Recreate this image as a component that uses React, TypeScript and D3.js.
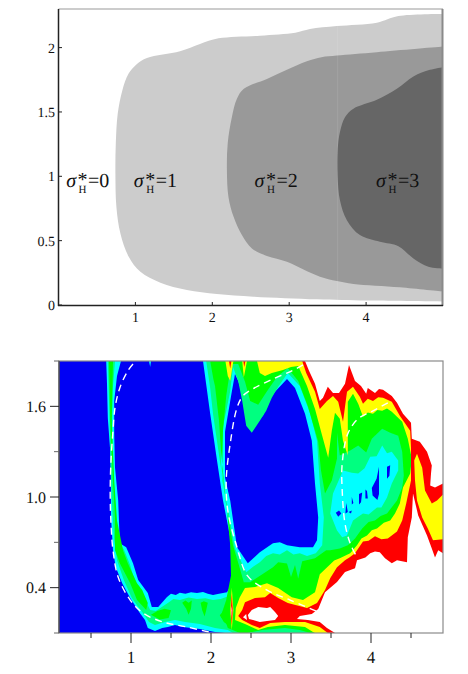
// App.tsx
import React from "react";
import * as d3 from "d3";

type Pt = [number, number];

// ---- top panel: stress regions ----
const topXTicks = [1, 2, 3, 4];
const topYTicks = [0, 0.5, 1, 1.5, 2];
const sigmaValues = [0, 1, 2, 3];
const sigmaLabelX = [0.1, 0.98, 2.55, 4.13];
const sigmaLabelY = 0.92;

const region1: Pt[] = [[5,2.261],[4.42,2.245],[4.14,2.194],[3.62,2.168],[3.27,2.145],[3.08,2.116],[2.62,2.093],[2.08,2.072],[1.84,2.028],[1.58,1.972],[1.15,1.92],[1.02,1.873],[0.91,1.796],[0.83,1.667],[0.77,1.486],[0.745,1.253],[0.74,1.021],[0.753,0.762],[0.805,0.556],[0.913,0.375],[1.065,0.258],[1.325,0.173],[1.67,0.116],[2.06,0.085],[2.537,0.065],[3.36,0.044],[4.01,0.034],[5,0.026]];
const region2: Pt[] = [[5,2.008],[4.14,1.964],[3.62,1.938],[3.42,1.925],[3.23,1.894],[2.97,1.827],[2.71,1.757],[2.41,1.68],[2.32,1.602],[2.255,1.46],[2.2,1.253],[2.19,1.047],[2.21,0.84],[2.277,0.685],[2.385,0.543],[2.515,0.439],[2.71,0.38],[2.97,0.336],[3.186,0.276],[3.4,0.22],[3.62,0.186],[3.835,0.163],[4.44,0.137],[5,0.103]];
const region3: Pt[] = [[5,1.848],[4.83,1.827],[4.615,1.775],[4.4,1.68],[4.14,1.594],[3.835,1.525],[3.727,1.46],[3.66,1.344],[3.63,1.202],[3.63,0.995],[3.66,0.814],[3.75,0.659],[3.92,0.543],[4.18,0.491],[4.42,0.457],[4.615,0.362],[4.81,0.297],[5,0.282]];

// ---- bottom panel: filled contour bands, outside edge of each level ----
const majorX = [1, 2, 3, 4];
const minorX = [0.5, 1.5, 2.5, 3.5, 4.5];
const majorY = [0.4, 1.0, 1.6];
const minorY = [0.1, 0.7, 1.3, 1.9];

const cyanOuter: Pt[] = [[0.69,1.9],[0.7,1.75],[0.71,1.524],[0.74,1.307],[0.75,1.089],[0.75,0.865],[0.775,0.647],[0.81,0.535],[0.89,0.43],[0.99,0.331],[1.11,0.232],[1.175,0.186],[1.21,0.133],[1.3,0.113],[1.39,0.133],[1.46,0.14],[1.55,0.153],[1.65,0.14],[1.86,0.127],[2.05,0.107],[2.175,0.1],[4.9,0.1],[4.9,1.9],[1.9,1.9],[1.99,1.551],[2.075,1.241],[2.15,0.977],[2.24,0.733],[2.26,0.535],[2.25,0.417],[2.2,0.37],[2.1,0.36],[2.025,0.351],[1.96,0.36],[1.9,0.372],[1.825,0.364],[1.75,0.37],[1.68,0.36],[1.61,0.366],[1.56,0.352],[1.5,0.36],[1.45,0.338],[1.34,0.272],[1.26,0.272],[1.21,0.364],[1.09,0.45],[1.025,0.562],[0.94,0.667],[0.86,0.694],[0.84,0.977],[0.8,1.195],[0.79,1.419],[0.79,1.636],[0.825,1.8],[0.875,1.9]];
const cyanHole: Pt[] = [[2.3,1.814],[2.26,1.696],[2.175,1.432],[2.175,1.129],[2.24,0.977],[2.325,0.667],[2.46,0.562],[2.61,0.634],[2.775,0.694],[2.86,0.7],[2.95,0.68],[3.11,0.667],[3.275,0.667],[3.325,0.713],[3.34,0.865],[3.3,1.089],[3.26,1.373],[3.175,1.551],[3.05,1.722],[2.95,1.781],[2.8,1.696],[2.71,1.63],[2.65,1.537],[2.575,1.505],[2.51,1.472],[2.46,1.531],[2.4,1.669],[2.34,1.768]];
const cyanSpeck: Pt[] = [[1.225,1.9],[1.25,1.9],[1.24,1.86]];

const springOuter: Pt[] = [[0.71,1.9],[0.725,1.636],[0.74,1.307],[0.76,0.977],[0.79,0.713],[0.825,0.581],[0.91,0.45],[1.01,0.331],[1.14,0.239],[1.225,0.173],[1.3,0.153],[1.425,0.173],[1.55,0.186],[1.675,0.173],[1.86,0.16],[2.05,0.133],[2.21,0.12],[2.275,0.1],[4.9,0.1],[4.9,1.9],[1.94,1.9],[1.99,1.72],[2.025,1.551],[2.11,1.241],[2.19,0.977],[2.25,0.733],[2.25,0.42],[2.225,0.345],[2.12,0.325],[2.025,0.318],[1.93,0.33],[1.825,0.325],[1.72,0.335],[1.61,0.318],[1.53,0.325],[1.46,0.298],[1.31,0.245],[1.24,0.252],[1.16,0.337],[1.05,0.436],[0.99,0.548],[0.91,0.654],[0.825,0.713],[0.8,0.977],[0.76,1.307],[0.77,1.7],[0.8,1.9]];
const springHole: Pt[] = [[2.275,1.86],[2.24,1.7],[2.14,1.439],[2.125,1.241],[2.14,1.109],[2.2,0.957],[2.3,0.66],[2.44,0.502],[2.53,0.54],[2.61,0.568],[2.69,0.61],[2.775,0.628],[2.86,0.62],[2.95,0.647],[3.03,0.62],[3.11,0.628],[3.2,0.61],[3.31,0.628],[3.39,0.68],[3.41,0.865],[3.36,1.089],[3.325,1.373],[3.24,1.551],[3.11,1.735],[2.96,1.821],[2.84,1.729],[2.76,1.656],[2.69,1.57],[2.61,1.505],[2.51,1.425],[2.44,1.472],[2.39,1.636],[2.34,1.768]];
const springLobeHole: Pt[] = [[3.65,1.175],[3.525,1.023],[3.49,0.891],[3.575,0.779],[3.64,0.733],[3.7,0.746],[3.775,0.845],[3.84,0.87],[3.9,0.891],[3.97,0.885],[4.075,0.931],[4.13,0.93],[4.2,0.997],[4.26,1.089],[4.34,1.175],[4.34,1.241],[4.3,1.27],[4.26,1.3],[4.2,1.29],[4.14,1.34],[4.07,1.27],[3.99,1.267],[3.92,1.19],[3.84,1.155],[3.76,1.16]];

const greenOuter: Pt[] = [[1.99,1.9],[2.03,1.78],[2.05,1.735],[2.1,1.505],[2.125,1.307],[2.16,1.109],[2.2,0.911],[2.24,0.68],[2.25,0.48],[2.19,0.318],[2.14,0.239],[2.21,0.133],[2.36,0.1],[2.46,0.1],[2.64,0.12],[2.925,0.133],[3.11,0.12],[3.24,0.1],[4.9,0.1],[4.9,1.9]];
const greenHole: Pt[] = [[2.25,1.88],[2.34,1.88],[2.425,1.762],[2.49,1.636],[2.59,1.61],[2.7,1.7],[2.825,1.795],[2.96,1.854],[3.09,1.768],[3.21,1.603],[3.34,1.366],[3.375,1.175],[3.425,1.023],[3.51,1.109],[3.575,1.254],[3.575,1.425],[3.61,1.274],[3.74,1.307],[3.84,1.34],[3.94,1.294],[4.01,1.386],[4.14,1.452],[4.24,1.425],[4.34,1.406],[4.39,1.3],[4.41,1.142],[4.39,1.063],[4.325,0.977],[4.2,0.891],[4.12,0.875],[4.05,0.845],[3.97,0.835],[3.89,0.792],[3.8,0.726],[3.71,0.68],[3.61,0.66],[3.49,0.647],[3.44,0.647],[3.3,0.595],[3.14,0.575],[3.09,0.46],[3.05,0.55],[3.0,0.47],[2.95,0.56],[2.84,0.568],[2.775,0.535],[2.49,0.436],[2.41,0.436],[2.36,0.529],[2.275,0.68],[2.19,0.944],[2.14,1.175],[2.15,1.439],[2.19,1.669]];
const greenLeftArm: Pt[] = [[0.725,1.9],[0.74,1.505],[0.775,1.109],[0.8,0.865],[0.8,0.647],[0.86,0.562],[0.99,0.43],[1.075,0.318],[1.19,0.252],[1.21,0.298],[1.14,0.384],[1.075,0.43],[0.96,0.562],[0.9,0.647],[0.825,0.845],[0.79,1.109],[0.76,1.505],[0.775,1.9]];
const greenBlobs: Pt[][] = [
  [[1.25,0.22],[1.33,0.245],[1.42,0.26],[1.5,0.25],[1.47,0.2],[1.36,0.19]],
  [[1.64,0.3],[1.68,0.315],[1.72,0.3],[1.76,0.315],[1.75,0.26],[1.72,0.22],[1.69,0.26]],
  [[1.87,0.3],[1.91,0.31],[1.96,0.3],[1.94,0.25],[1.92,0.21],[1.89,0.25]],
  [[2.11,0.218],[2.21,0.284],[2.26,0.318],[2.26,0.133],[2.16,0.173]],
];

const yellowOuter: Pt[] = [[2.575,1.9],[2.61,1.82],[2.675,1.8],[2.76,1.82],[2.9,1.84],[3.0,1.86],[3.09,1.867],[3.2,1.735],[3.3,1.583],[3.39,1.406],[3.465,1.26],[3.51,1.439],[3.55,1.557],[3.61,1.518],[3.65,1.373],[3.71,1.274],[3.71,1.63],[3.775,1.683],[3.84,1.617],[3.9,1.531],[3.96,1.56],[4.025,1.551],[4.08,1.575],[4.14,1.57],[4.2,1.585],[4.26,1.564],[4.39,1.498],[4.46,1.386],[4.51,1.254],[4.49,1.155],[4.4,1.063],[4.36,0.957],[4.3,0.89],[4.24,0.845],[4.16,0.83],[4.075,0.792],[4.01,0.78],[3.95,0.746],[3.88,0.725],[3.825,0.68],[3.74,0.628],[3.61,0.595],[3.54,0.58],[3.465,0.542],[3.36,0.489],[3.3,0.37],[3.15,0.318],[3.01,0.337],[2.84,0.397],[2.7,0.43],[2.55,0.404],[2.425,0.397],[2.36,0.337],[2.31,0.265],[2.3,0.186],[2.425,0.16],[2.59,0.12],[2.71,0.14],[2.925,0.153],[3.175,0.14],[3.275,0.107],[3.3,0.1],[4.9,0.1],[4.9,1.9]];
const yellowTopPatches: Pt[][] = [
  [[2.18,1.9],[2.21,1.8],[2.24,1.77],[2.28,1.9]],
  [[2.39,1.9],[2.41,1.79],[2.45,1.9]],
];
const redTopSpecks: Pt[][] = [
  [[2.225,1.9],[2.24,1.85],[2.255,1.9]],
  [[2.405,1.9],[2.415,1.86],[2.43,1.9]],
];

const redOuter: Pt[] = [[3.14,1.9],[3.19,1.82],[3.3,1.696],[3.36,1.583],[3.45,1.636],[3.525,1.669],[3.59,1.63],[3.65,1.498],[3.7,1.696],[3.775,1.729],[3.86,1.663],[3.9,1.617],[3.96,1.65],[4.025,1.636],[4.09,1.66],[4.15,1.656],[4.26,1.63],[4.36,1.537],[4.49,1.439],[4.5,1.326],[4.5,1.109],[4.44,0.957],[4.39,0.845],[4.325,0.772],[4.21,0.726],[4.13,0.72],[4.05,0.74],[3.97,0.71],[3.9,0.706],[3.8,0.628],[3.73,0.6],[3.675,0.581],[3.575,0.535],[3.49,0.463],[3.425,0.384],[3.325,0.298],[3.2,0.265],[2.96,0.298],[2.84,0.331],[2.74,0.364],[2.675,0.337],[2.55,0.331],[2.425,0.304],[2.39,0.252],[2.34,0.212],[2.39,0.186],[2.51,0.153],[2.61,0.133],[2.74,0.166],[2.925,0.173],[3.175,0.173],[3.36,0.14],[3.46,0.1],[4.9,0.1],[4.9,1.9]];
const redLobeHole: Pt[] = [[4.575,1.286],[4.64,1.194],[4.675,1.043],[4.76,0.957],[4.825,0.977],[4.9,1.016],[4.9,0.72],[4.775,0.713],[4.71,0.792],[4.64,0.865],[4.575,0.977],[4.55,1.109],[4.54,1.241]];

const whiteUpper: Pt[] = [[3.175,1.9],[3.225,1.835],[3.3,1.749],[3.36,1.636],[3.4,1.656],[3.46,1.729],[3.525,1.689],[3.6,1.689],[3.675,1.749],[3.725,1.874],[3.8,1.768],[3.875,1.735],[3.94,1.683],[3.96,1.722],[4.05,1.689],[4.1,1.715],[4.15,1.709],[4.26,1.669],[4.325,1.623],[4.4,1.551],[4.5,1.491],[4.51,1.386],[4.61,1.366],[4.7,1.3],[4.76,1.208],[4.75,1.155],[4.74,1.076],[4.8,1.063],[4.9,1.089],[4.9,1.9]];
const whiteLower: Pt[] = [[4.9,0.628],[4.84,0.647],[4.8,0.6],[4.76,0.66],[4.7,0.746],[4.59,0.878],[4.525,1.023],[4.51,0.865],[4.46,0.733],[4.45,0.568],[4.325,0.581],[4.26,0.562],[4.175,0.595],[4.11,0.634],[4.05,0.64],[3.99,0.628],[3.93,0.6],[3.825,0.581],[3.8,0.529],[3.675,0.503],[3.575,0.437],[3.425,0.37],[3.34,0.258],[3.26,0.225],[3.11,0.212],[3.075,0.192],[3.21,0.186],[3.36,0.173],[3.45,0.133],[3.55,0.1],[4.9,0.1]];
const whiteIslands: Pt[][] = [
  [[2.46,0.219],[2.51,0.252],[2.59,0.272],[2.7,0.265],[2.74,0.272],[2.8,0.239],[2.84,0.212],[2.8,0.186],[2.7,0.179],[2.61,0.173],[2.525,0.186],[2.475,0.192]],
  [[2.4,0.205],[2.44,0.225],[2.45,0.186]],
];

const spikeYellow: Pt[] = [[2.26,0.4],[2.28,0.25],[2.26,0.12],[2.24,0.25]];
const spikeRed: Pt[] = [[2.26,0.36],[2.272,0.25],[2.26,0.15],[2.248,0.25]];
const spikeWhite: Pt[] = [[2.26,0.28],[2.265,0.25],[2.26,0.2],[2.255,0.25]];

const blueSpecks: Pt[][] = [
  [[3.56,0.895],[3.6,0.91],[3.63,0.89],[3.59,0.87]],
  [[3.69,0.96],[3.71,0.9],[3.68,0.89]],
  [[3.72,0.9],[3.76,0.91],[3.75,0.89]],
  [[3.76,1.0],[3.78,0.96],[3.76,0.95]],
  [[3.85,1.02],[3.89,1.03],[3.875,0.965],[3.85,0.95]],
  [[3.93,1.05],[3.95,1.04],[3.96,0.99],[3.93,0.99]],
  [[4.1,1.2],[4.07,1.12],[4.01,1.06],[4.02,1.01],[4.08,0.98],[4.1,1.02]],
  [[4.2,1.2],[4.24,1.21],[4.23,1.14],[4.2,1.12]],
];

const dashLines: Pt[][] = [
  [[1.025,1.88],[0.96,1.835],[0.86,1.722],[0.8,1.59],[0.775,1.439],[0.75,1.241],[0.74,1.023],[0.75,0.825],[0.775,0.647],[0.84,0.469],[0.99,0.318],[1.15,0.232],[1.4,0.173],[1.7,0.14],[2.025,0.1]],
  [[3.15,1.874],[3.01,1.835],[2.775,1.781],[2.525,1.716],[2.4,1.669],[2.325,1.59],[2.24,1.353],[2.19,1.109],[2.21,0.911],[2.325,0.667],[2.46,0.476],[2.7,0.384],[2.99,0.318],[3.34,0.239]],
  [[4.21,1.623],[4.025,1.57],[3.84,1.518],[3.71,1.419],[3.64,1.221],[3.64,1.043],[3.675,0.825],[3.74,0.693],[3.825,0.601]],
];

const SERIF = "'Liberation Serif', 'Times New Roman', serif";
const BLUE = "#0000f4";
const CYAN = "#00ffff";
const SPRING = "#00ff80";
const GREEN = "#00ff00";
const YELLOW = "#ffff00";
const RED = "#ff0000";

const topX = d3.scaleLinear().domain([0, 5]).range([58.5, 443]);
const topY = d3.scaleLinear().domain([0, 2.3]).range([305, 9]);
const botX = d3.scaleLinear().domain([0.1, 4.9]).range([59, 443]);
const botY = d3.scaleLinear().domain([0.1, 1.9]).range([633, 361]);

const smooth = d3.line<Pt>().x((d) => topX(d[0])).y((d) => topY(d[1])).curve(d3.curveCatmullRom.alpha(0.5));
const jagged = d3.line<Pt>().x((d) => botX(d[0])).y((d) => botY(d[1]));
const dashed = d3.line<Pt>().x((d) => botX(d[0])).y((d) => botY(d[1])).curve(d3.curveCatmullRom.alpha(0.5));

// several rings make one path, holes come from evenodd
const rings = (...polys: Pt[][]) => polys.map((p) => jagged(p) + "Z").join(" ");

const SigmaLabel = ({ value, x }: { value: number; x: number }) => (
  <text x={topX(x)} y={topY(sigmaLabelY)} fontFamily={SERIF} fontSize={20} fill="#111" textRendering="geometricPrecision">
    <tspan fontStyle="italic">σ</tspan>
    <tspan dx={1.5} dy={-1}>*</tspan>
    <tspan dx={-9} dy={7} fontSize={11}>H</tspan>
    <tspan dx={1.5} dy={-6}>{`=${value}`}</tspan>
  </text>
);

export default function App() {
  return (
    <svg width={468} height={674} style={{ position: "absolute", left: 0, top: 0, display: "block", background: "#fff" }}>
      <defs>
        <clipPath id="plot"><rect x={59} y={361} width={384} height={272} /></clipPath>
        <filter id="soft" x="-2%" y="-2%" width="104%" height="104%">
          <feGaussianBlur stdDeviation={0.4} />
        </filter>
      </defs>

      {/* top panel */}
      <path d={smooth(region1) + "Z"} fill="#cccccc" />
      <path d={smooth(region2) + "Z"} fill="#999999" />
      <path d={smooth(region3) + "Z"} fill="#666666" />
      <line x1={topX(3.63)} x2={topX(3.63)} y1={topY(2.168)} y2={topY(0.04)} stroke="#fff" strokeOpacity={0.1} />
      {sigmaValues.map((v, i) => <SigmaLabel key={v} value={v} x={sigmaLabelX[i]} />)}
      <line x1={58.5} x2={443} y1={9} y2={9} stroke="#999" />
      <line x1={442.5} x2={442.5} y1={9} y2={306} stroke="#8a8a8a" strokeWidth={2} />
      <line x1={58.5} x2={58.5} y1={9} y2={306} stroke="#222" strokeWidth={1.5} />
      <line x1={58} x2={443} y1={305.5} y2={305.5} stroke="#222" strokeWidth={1.5} />
      {topXTicks.map((t) => (
        <g key={t}>
          <line x1={topX(t)} x2={topX(t)} y1={302} y2={305} stroke="#222" />
          <text x={topX(t)} y={322} textAnchor="middle" fontFamily={SERIF} fontSize={14} fill="#111" textRendering="geometricPrecision">{t}</text>
        </g>
      ))}
      {topYTicks.map((t) => (
        <g key={t}>
          <line x1={59} x2={62} y1={topY(t)} y2={topY(t)} stroke="#222" />
          <text x={55} y={topY(t) + 5} textAnchor="end" fontFamily={SERIF} fontSize={14} fill="#111" textRendering="geometricPrecision">{t}</text>
        </g>
      ))}

      {/* bottom panel */}
      <g clipPath="url(#plot)">
        <g filter="url(#soft)">
          <rect x={59} y={361} width={384} height={272} fill={BLUE} />
          <path d={rings(cyanOuter, cyanHole)} fill={CYAN} fillRule="evenodd" />
          <path d={rings(cyanSpeck)} fill={CYAN} />
          <path d={rings(springOuter, springHole, springLobeHole)} fill={SPRING} fillRule="evenodd" />
          <path d={rings(greenOuter, greenHole)} fill={GREEN} fillRule="evenodd" />
          <path d={rings(greenLeftArm, ...greenBlobs)} fill={GREEN} />
          <path d={rings(yellowOuter, ...yellowTopPatches)} fill={YELLOW} />
          <path d={rings(...redTopSpecks)} fill={RED} />
          <path d={rings(spikeYellow)} fill={YELLOW} />
          <path d={rings(spikeRed)} fill={RED} />
          <path d={rings(spikeWhite)} fill="#fff" />
          <path d={rings(redOuter, redLobeHole)} fill={RED} fillRule="evenodd" />
          <path d={rings(whiteUpper, whiteLower, ...whiteIslands)} fill="#fff" />
          <path d={rings(...blueSpecks)} fill={BLUE} />
        </g>
        {dashLines.map((l, i) => (
          <path key={i} d={dashed(l) ?? ""} fill="none" stroke="#fff" strokeWidth={1.4} strokeDasharray="7 5" />
        ))}
      </g>
      <rect x={59} y={361} width={384} height={272} fill="none" stroke="#8a8a8a" strokeWidth={1.2} />
      <line x1={59} x2={59} y1={361} y2={633} stroke="#333" />
      {majorX.map((t) => (
        <g key={t}>
          <line x1={botX(t)} x2={botX(t)} y1={633} y2={643} stroke="#222" />
          <text x={botX(t)} y={663} textAnchor="middle" fontFamily={SERIF} fontSize={17} fill="#111" textRendering="geometricPrecision">{t}</text>
        </g>
      ))}
      {minorX.map((t) => <line key={t} x1={botX(t)} x2={botX(t)} y1={633} y2={638} stroke="#222" />)}
      {majorY.map((t) => (
        <g key={t}>
          <line x1={50} x2={59} y1={botY(t)} y2={botY(t)} stroke="#222" />
          <text x={46} y={botY(t) + 5.5} textAnchor="end" fontFamily={SERIF} fontSize={16} fill="#111" textRendering="geometricPrecision">{t.toFixed(1)}</text>
        </g>
      ))}
      {minorY.map((t) => <line key={t} x1={54} x2={59} y1={botY(t)} y2={botY(t)} stroke="#666" />)}
    </svg>
  );
}
